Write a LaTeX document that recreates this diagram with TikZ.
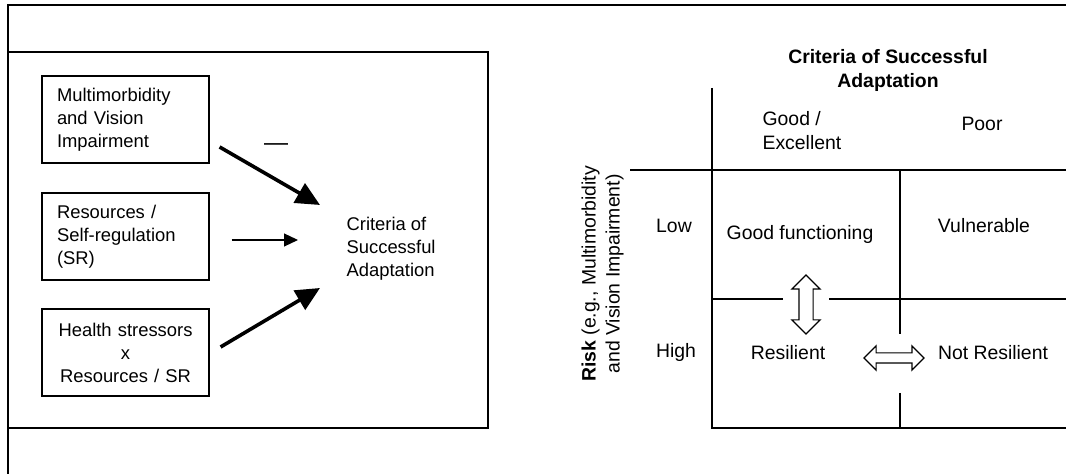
\documentclass[tikz,border=0pt]{standalone}
\usepackage{fontspec}
\setmainfont{Liberation Sans}
\usetikzlibrary{arrows.meta,shapes.arrows,positioning,calc}

\begin{document}
\begin{tikzpicture}[x=0.5pt,y=-0.5pt,line width=0.6pt,
    box/.style={draw,minimum width=83.5pt,minimum height=43.5pt,text width=68.5pt,
      inner xsep=7.5pt,align=left,font=\fontsize{9.2}{11.5}\selectfont},
    lbl/.style={inner sep=0pt,font=\fontsize{9.7}{12}\selectfont},
    bigarrow/.style={line width=1.8pt,-{Triangle[length=12pt,width=11pt]}},
    dbl/.style={draw,fill=white,double arrow,double arrow head extend=3.5pt}]
        \useasboundingbox (0,0) rectangle (1066,474);
        % outer frame
        \draw (1066,5) -- (8,5) -- (8,474);

        \begin{scope}
          \draw (8,52) rectangle (488,428);
          \node[box] (mv) at (125.5,119.5) {Multimorbidity\\and Vision\\Impairment};
          \node[box] (sr) at (125.5,236.5) {Resources /\\Self-regulation\\(SR)};
          \node[box,align=center] (hs) at (125.5,352.5) {Health stressors\\x\\Resources / SR};
          \node[inner sep=0pt,anchor=west,align=left,font=\fontsize{9.2}{11.5}\selectfont]
            (crit) at (346,249) {Criteria of\\Successful\\Adaptation};
          \node[inner sep=0pt,font=\fontsize{12}{12}\selectfont] (minus) at (276,147) {---};
          \coordinate (a1) at ($(mv.east)+(10,27.5)$);
          \coordinate (b1) at ($(crit.west)+(-26,-44)$);
          \coordinate (a2) at ($(sr.east)+(22,3.5)$);
          \coordinate (b2) at ($(crit.west)+(-48,-9)$);
          \coordinate (a3) at ($(hs.east)+(11,-5.5)$);
          \coordinate (b3) at ($(crit.west)+(-26,39)$);
          \draw[bigarrow] (a1) -- (b1);
          \draw[-{Triangle[length=7pt,width=6.5pt]}] (a2) -- (b2);
          \draw[bigarrow] (a3) -- (b3);
        \end{scope}

        \begin{scope}
          % grid
          \draw (712,88) -- (712,428) -- (1066,428);
          \draw (630,170) -- (1066,170);
          \draw (712,299) -- (783,299) (829,299) -- (1066,299);
          \draw (900,170) -- (900,334) (900,393) -- (900,428);
          \node[lbl,font=\fontsize{9.7}{12}\selectfont\bfseries,align=center] (title) at (888,70)
            {Criteria of Successful\\Adaptation};
          \node[lbl,anchor=west,align=left] (colgood) at (762,131) {Good /\\Excellent};
          \node[lbl] (colpoor) at (982,124) {Poor};
          \node[lbl] (rowlow) at (674,226) {Low};
          \node[lbl] (rowhigh) at (676,352) {High};
          \node[lbl] (cellgf) at (800,234) {Good functioning};
          \node[lbl] (cellvul) at (984,226) {Vulnerable};
          \node[lbl] (cellres) at (788,353) {Resilient};
          \node[lbl] (cellnot) at (993,353) {Not Resilient};
          \node[lbl,rotate=90,align=center] (risk) at (602.5,274)
            {\textbf{Risk} (e.g., Multimorbidity\\and Vision Impairment)};
          \node[dbl,rotate=90,inner sep=3.25pt,minimum height=29.5pt] (vupdown) at (806,304.5) {};
          \node[dbl,inner sep=2.25pt,minimum height=30pt] (hleftright) at (894,358) {};
        \end{scope}
      \end{tikzpicture}
\end{document}
